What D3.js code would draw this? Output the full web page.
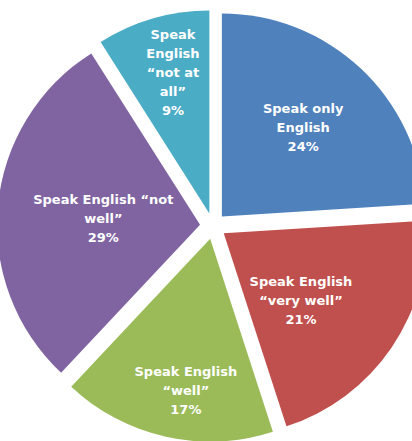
<!DOCTYPE html>
<html><head><meta charset="utf-8">
<script src="https://cdn.jsdelivr.net/npm/d3@7"></script>
<style>html,body{margin:0;padding:0;background:#fff;overflow:hidden}</style>
</head><body>
<svg id="c" width="412" height="441"></svg>
<script>
const categories = ["Speak only English", "Speak English \"very well\"", "Speak English \"well\"", "Speak English \"not well\"", "Speak English \"not at all\""];
const values = [24, 21, 17, 29, 9];
const labelLines = [
  ["Speak only", "English"],
  ["Speak English", "\u201cvery well\u201d"],
  ["Speak English", "\u201cwell\u201d"],
  ["Speak English \u201cnot", "well\u201d"],
  ["Speak", "English", "\u201cnot at", "all\u201d"]
];
const colors = ["#4F81BD", "#C0504D", "#9BBB59", "#8064A2", "#4BACC6"];

// layout
const cx = 213, cy = 226, R = 203, explode = 13, lineH = 19;
const labelPolar = [[42.3, 134], [130.1, 115], [189.4, 166], [274.2, 110], [345.4, 159]];

const svg = d3.select("#c");
const pie = d3.pie().sort(null).value(d => d);
const arcs = pie(values);
const arc = d3.arc().innerRadius(0).outerRadius(R);
const total = d3.sum(values);

const g = svg.append("g").attr("transform", `translate(${cx},${cy})`);
g.selectAll("path.slice").data(arcs).enter().append("path")
  .attr("class", "slice")
  .attr("transform", d => {
    const m = (d.startAngle + d.endAngle) / 2;
    return `translate(${explode * Math.sin(m)},${-explode * Math.cos(m)})`;
  })
  .attr("d", arc).attr("fill", (d, i) => colors[i]);

arcs.forEach((d, i) => {
  const [ang, dist] = labelPolar[i];
  const a = ang * Math.PI / 180;
  const x = dist * Math.sin(a), y = -dist * Math.cos(a);
  const lines = labelLines[i].concat([Math.round(d.data / total * 100) + "%"]);
  const t = g.append("text")
    .attr("text-anchor", "middle")
    .attr("font-family", "DejaVu Sans, sans-serif")
    .attr("font-weight", "bold")
    .attr("font-size", 13)
    .attr("fill", "#fff");
  lines.forEach((ln, k) => {
    t.append("tspan").attr("x", x)
      .attr("y", y + (k - (lines.length - 1) / 2) * lineH + 5)
      .text(ln);
  });
});
</script>
</body></html>
